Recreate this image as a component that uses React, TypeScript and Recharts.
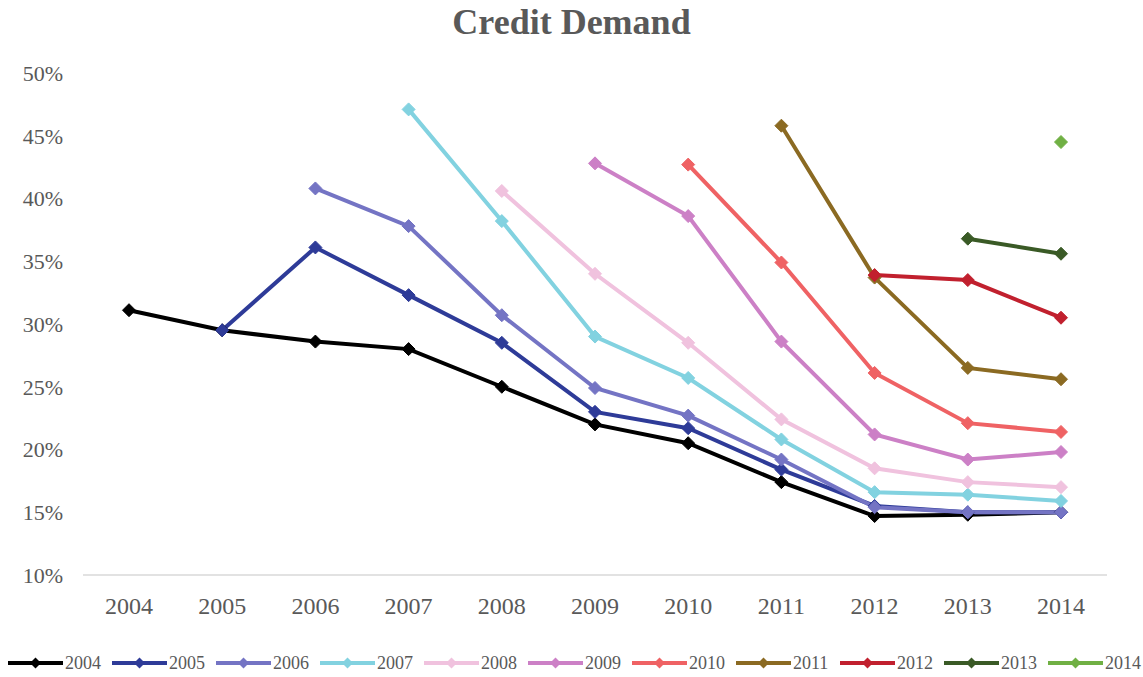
import React from 'react';
import { LineChart, Line, XAxis, YAxis } from 'recharts';

const years = ['2004', '2005', '2006', '2007', '2008', '2009', '2010', '2011', '2012', '2013', '2014'];

// each cohort starts in its own year, earlier years are empty
const c2004 = [31.1, 29.5, 28.6, 28.0, 25.0, 22.0, 20.5, 17.4, 14.7, 14.8, 15.0];
const c2005 = [null, 29.5, 36.1, 32.3, 28.5, 23.0, 21.7, 18.4, 15.5, 15.0, 15.0];
const c2006 = [null, null, 40.8, 37.8, 30.7, 24.9, 22.7, 19.2, 15.4, 15.0, 15.0];
const c2007 = [null, null, null, 47.1, 38.2, 29.0, 25.7, 20.8, 16.6, 16.4, 15.9];
const c2008 = [null, null, null, null, 40.6, 34.0, 28.5, 22.4, 18.5, 17.4, 17.0];
const c2009 = [null, null, null, null, null, 42.8, 38.6, 28.6, 21.2, 19.2, 19.8];
const c2010 = [null, null, null, null, null, null, 42.7, 34.9, 26.1, 22.1, 21.4];
const c2011 = [null, null, null, null, null, null, null, 45.8, 33.7, 26.5, 25.6];
const c2012 = [null, null, null, null, null, null, null, null, 33.9, 33.5, 30.5];
const c2013 = [null, null, null, null, null, null, null, null, null, 36.8, 35.6];
const c2014 = [null, null, null, null, null, null, null, null, null, null, 44.5];

const yTicks = [10, 15, 20, 25, 30, 35, 40, 45, 50];

const series = [
  { name: '2004', values: c2004, color: '#000000' },
  { name: '2005', values: c2005, color: '#2e3b98' },
  { name: '2006', values: c2006, color: '#7474c4' },
  { name: '2007', values: c2007, color: '#82d2e0' },
  { name: '2008', values: c2008, color: '#f0c2de' },
  { name: '2009', values: c2009, color: '#cc80c6' },
  { name: '2010', values: c2010, color: '#ef6264' },
  { name: '2011', values: c2011, color: '#8b6a22' },
  { name: '2012', values: c2012, color: '#c1202e' },
  { name: '2013', values: c2013, color: '#3a5a26' },
  { name: '2014', values: c2014, color: '#70b044' },
];

const rows = years.map((year, i) => {
  const row: Record<string, any> = { year };
  series.forEach((s) => {
    row[s.name] = s.values[i];
  });
  return row;
});

const FONT = '"Liberation Serif", "Times New Roman", serif';
const TEXT = '#595959';

const diamond = (cx: number, cy: number, r: number) =>
  `M${cx},${cy - r} L${cx + r},${cy} L${cx},${cy + r} L${cx - r},${cy} Z`;

const makeDot = (color: string) => (props: any) => {
  const { cx, cy, value, index } = props;
  if (value == null || cy == null || isNaN(cy)) return <g key={`d-${index}`} />;
  return <path key={`d-${index}`} d={diamond(cx, cy, 6.5)} fill={color} stroke={color} strokeWidth={1} />;
};

const LegendRow = () => (
  <div
    style={{
      position: 'absolute',
      top: 650,
      left: 8,
      display: 'flex',
      fontFamily: FONT,
      color: TEXT,
    }}
  >
    {series.map((s) => (
      <div key={s.name} style={{ width: 104, height: 26, display: 'flex', alignItems: 'center' }}>
        <svg width={55} height={14}>
          <line x1={0} y1={7} x2={55} y2={7} stroke={s.color} strokeWidth={4} />
          <path d={diamond(27.5, 7, 5.5)} fill={s.color} />
        </svg>
        <span style={{ fontSize: 18, marginLeft: 2 }}>{s.name}</span>
      </div>
    ))}
  </div>
);

export default function App() {
  return (
    <div style={{ position: 'absolute', left: 0, top: 0, width: 1143, height: 677, background: '#fff' }}>
      <div
        style={{
          position: 'absolute',
          top: 0,
          left: 0,
          width: '100%',
          textAlign: 'center',
          fontFamily: FONT,
          fontSize: 36,
          fontWeight: 'bold',
          lineHeight: '44px',
          color: TEXT,
        }}
      >
        Credit Demand
      </div>
      <div style={{ position: 'absolute', top: 0, left: 0 }}>
        <LineChart width={1143} height={620} data={rows} margin={{ top: 73, right: 36, bottom: 0, left: 0 }}>
          <XAxis
            dataKey="year"
            height={45}
            padding={{ left: 46, right: 46 }}
            tickLine={false}
            axisLine={{ stroke: '#d9d9d9', strokeWidth: 1.5 }}
            tickMargin={16}
            tick={{ fontSize: 24, fill: TEXT, fontFamily: FONT }}
            interval={0}
          />
          <YAxis
            width={83}
            domain={[10, 50]}
            ticks={yTicks}
            tickFormatter={(v: number) => `${v}%`}
            tickLine={false}
            axisLine={false}
            tickMargin={14}
            tick={{ fontSize: 22, fill: TEXT, fontFamily: FONT }}
          />
          {series.map((s) => (
            <Line
              key={s.name}
              type="linear"
              dataKey={s.name}
              stroke={s.color}
              strokeWidth={4}
              dot={makeDot(s.color)}
              activeDot={false}
              isAnimationActive={false}
            />
          ))}
        </LineChart>
      </div>
      <LegendRow />
    </div>
  );
}
